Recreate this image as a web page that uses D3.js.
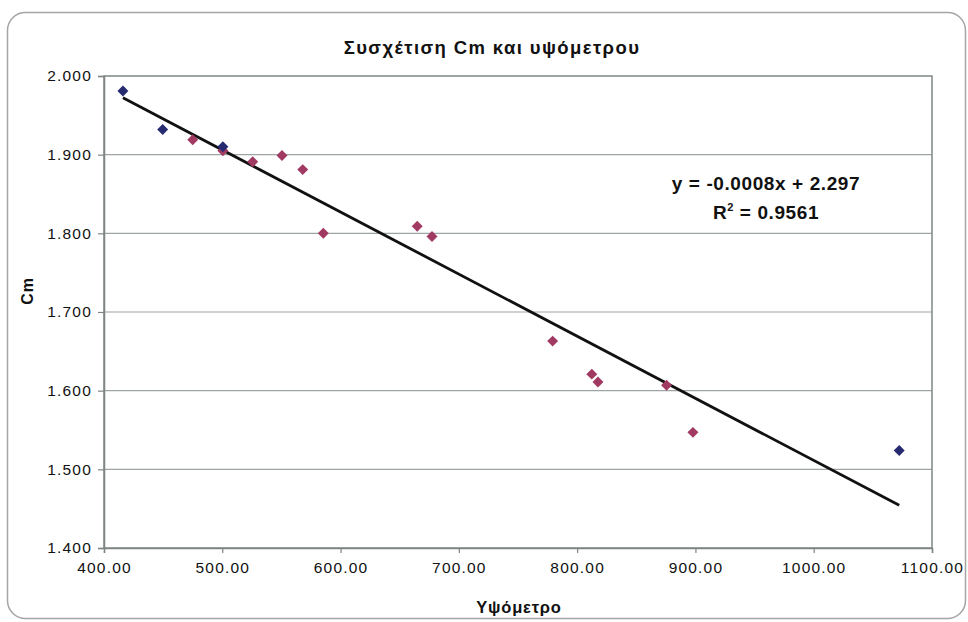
<!DOCTYPE html>
<html>
<head>
<meta charset="utf-8">
<script src="https://cdn.jsdelivr.net/npm/d3@7"></script>
<style>
  html, body { margin: 0; padding: 0; background: #fff; }
  svg { display: block; }
  text { font-family: "Liberation Sans", Arial, sans-serif; fill: #111; }
</style>
</head>
<body>
<svg id="chart" width="968" height="622"></svg>
<script>
// Altitude (m) and Cm for the two groups of stations
const altitudeA = [416.0, 449.6, 500.5, 1072.3];
const cmA       = [1.981, 1.932, 1.910, 1.524];
const altitudeB = [475.0, 500.5, 525.7, 550.5, 568.0, 585.4, 664.8, 677.3, 779.3, 812.4, 817.6, 875.6, 897.9];
const cmB       = [1.919, 1.905, 1.891, 1.899, 1.881, 1.800, 1.809, 1.796, 1.663, 1.621, 1.611, 1.607, 1.547];

const xTicks = [400, 500, 600, 700, 800, 900, 1000, 1100];
const yTicks = [1.4, 1.5, 1.6, 1.7, 1.8, 1.9, 2.0];

const chartTitle = "Συσχέτιση Cm και υψόμετρου";
const xTitle = "Υψόμετρο";
const yTitle = "Cm";
const equationLine = "y = -0.0008x + 2.297";
const r2Value = "0.9561";

const svg = d3.select("#chart");
const plot = { left: 104, right: 932, top: 76, bottom: 548 };

const x = d3.scaleLinear().domain([400, 1100]).range([plot.left, plot.right]);
const y = d3.scaleLinear().domain([1.4, 2.0]).range([plot.bottom, plot.top]);

// outer chart frame
svg.append("rect")
  .attr("x", 7.5).attr("y", 12.5)
  .attr("width", 958).attr("height", 606)
  .attr("rx", 18).attr("ry", 18)
  .attr("fill", "#fff").attr("stroke", "#a5a5a5").attr("stroke-width", 1.5);

// horizontal gridlines
svg.append("g")
  .selectAll("line")
  .data(yTicks.slice(1, -1))
  .join("line")
  .attr("x1", plot.left).attr("x2", plot.right)
  .attr("y1", d => y(d)).attr("y2", d => y(d))
  .attr("stroke", "#9ea3a3").attr("stroke-width", 1.2);

// plot-area border
svg.append("rect")
  .attr("x", plot.left).attr("y", plot.top)
  .attr("width", plot.right - plot.left).attr("height", plot.bottom - plot.top)
  .attr("fill", "none").attr("stroke", "#7f8585").attr("stroke-width", 1.5);

// axes
const yAxis = d3.axisLeft(y).tickValues(yTicks).tickFormat(d3.format(".3f")).tickSizeOuter(0).tickSize(6).tickPadding(6);
const xAxis = d3.axisBottom(x).tickValues(xTicks).tickFormat(d3.format(".2f")).tickSizeOuter(0).tickSize(5).tickPadding(9);

const gy = svg.append("g").attr("transform", `translate(${plot.left},0)`).call(yAxis);
const gx = svg.append("g").attr("transform", `translate(0,${plot.bottom})`).call(xAxis);
[gx, gy].forEach(g => {
  g.select(".domain").attr("stroke", "#7f8585").attr("stroke-width", 1.5);
  g.selectAll(".tick line").attr("stroke", "#7f8585").attr("stroke-width", 1.2);
  g.selectAll(".tick text")
    .attr("fill", "#1a1a1a")
    .style("font-family", '"Liberation Sans", Arial, sans-serif')
    .style("font-size", "15.5px")
    .style("letter-spacing", "1.2px");
});

// least-squares trend line over all points
const allX = altitudeA.concat(altitudeB);
const allY = cmA.concat(cmB);
const mx = d3.mean(allX), my = d3.mean(allY);
const slope = d3.sum(allX, (v, i) => (v - mx) * (allY[i] - my)) / d3.sum(allX, v => (v - mx) * (v - mx));
const intercept = my - slope * mx;
const [xmin, xmax] = d3.extent(allX);
svg.append("line")
  .attr("x1", x(xmin)).attr("y1", y(intercept + slope * xmin))
  .attr("x2", x(xmax)).attr("y2", y(intercept + slope * xmax))
  .attr("stroke", "#111").attr("stroke-width", 2.8);

// diamond markers (squares turned 45 degrees)
const marker = d3.symbol().type(d3.symbolSquare).size(60);
function drawSeries(xs, ys, color) {
  svg.append("g")
    .selectAll("path")
    .data(xs.map((v, i) => [v, ys[i]]))
    .join("path")
    .attr("d", marker)
    .attr("transform", d => `translate(${x(d[0])},${y(d[1])}) rotate(45)`)
    .attr("fill", color);
}
drawSeries(altitudeB, cmB, "#a13a62");
drawSeries(altitudeA, cmA, "#262a70");

// titles
svg.append("text")
  .attr("x", 492).attr("y", 54)
  .attr("text-anchor", "middle")
  .style("font-size", "18.5px").style("font-weight", "bold")
  .style("letter-spacing", "1.4px")
  .text(chartTitle);

svg.append("text")
  .attr("x", 519).attr("y", 613)
  .attr("text-anchor", "middle")
  .style("font-size", "16.5px").style("font-weight", "bold")
  .style("letter-spacing", "0.8px")
  .text(xTitle);

svg.append("text")
  .attr("transform", `translate(33,291) rotate(-90)`)
  .attr("text-anchor", "middle")
  .style("font-size", "16px").style("font-weight", "bold")
  .style("letter-spacing", "0.8px")
  .text(yTitle);

// regression equation
svg.append("text")
  .attr("x", 766).attr("y", 190)
  .attr("text-anchor", "middle")
  .style("font-size", "19px").style("font-weight", "bold")
  .style("letter-spacing", "0.6px")
  .text(equationLine);

const r2 = svg.append("text")
  .attr("x", 766).attr("y", 219)
  .attr("text-anchor", "middle")
  .style("font-size", "19px").style("font-weight", "bold")
  .style("letter-spacing", "0.6px");
r2.append("tspan").text("R");
r2.append("tspan").attr("dy", -8).style("font-size", "11px").text("2");
r2.append("tspan").attr("dy", 8).text(" = " + r2Value);
</script>
</body>
</html>
